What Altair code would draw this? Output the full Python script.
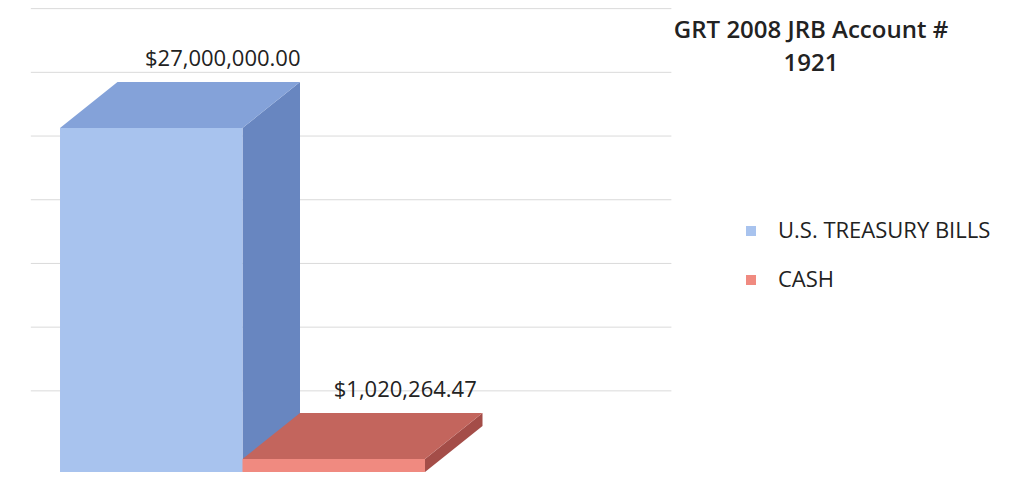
import altair as alt
import pandas as pd

# ---- data ----
categories = ["U.S. TREASURY BILLS", "CASH"]
values = [27000000.00, 1020264.47]
value_labels = ["$27,000,000.00", "$1,020,264.47"]
grid_values = [5e6, 10e6, 15e6, 20e6, 25e6, 30e6, 35e6]
title_lines = ["GRT 2008 JRB Account #", "1921"]

# ---- styling / projection constants ----
front_colors = ["#a8c3ee", "#f08a80"]
top_colors = ["#84a2d9", "#c3655d"]
side_colors = ["#6886c0", "#a44d48"]
DX = 0.315      # depth offset along x (category units)
DY = 3.61e6     # depth offset along y (value units)
WALL = 1.37e6   # back-wall offset of gridlines
GRID_X0, GRID_X1 = -0.16, 3.35

xs = alt.Scale(domain=[-0.285, 5.178], nice=False, zero=False)
ys = alt.Scale(domain=[-0.47e6, 36.42e6], nice=False, zero=False)

front_rows, top_rows, side_rows, label_rows = [], [], [], []
for i, (c, v) in enumerate(zip(categories, values)):
    front_rows.append({"cat": c, "x0": i, "x1": i + 1, "y0": 0, "y1": v})
    top_rows += [
        {"cat": c, "col": top_colors[i], "y": v, "xa": i, "xb": i + 1},
        {"cat": c, "col": top_colors[i], "y": v + DY, "xa": i + DX, "xb": i + 1 + DX},
    ]
    side_rows += [
        {"cat": c, "col": side_colors[i], "x": i + 1, "ya": 0, "yb": v},
        {"cat": c, "col": side_colors[i], "x": i + 1 + DX, "ya": DY, "yb": v + DY},
    ]
    label_rows.append({"cat": c, "x": i + 0.5 + DX, "y": v + DY, "text": value_labels[i]})

front_df = pd.DataFrame(front_rows)
top_df = pd.DataFrame(top_rows)
side_df = pd.DataFrame(side_rows)
label_df = pd.DataFrame(label_rows)
grid_df = pd.DataFrame({"v": grid_values})
grid_df["y"] = grid_df["v"] + WALL
grid_df["x0"] = GRID_X0
grid_df["x1"] = GRID_X1

grid = alt.Chart(grid_df).mark_rule(color="#dadada", strokeWidth=1).encode(
    x=alt.X("x0:Q", scale=xs, axis=None),
    x2="x1:Q",
    y=alt.Y("y:Q", scale=ys, axis=None),
)

side = alt.Chart(side_df).mark_area(orient="vertical", opacity=1).encode(
    x=alt.X("x:Q", scale=xs, axis=None),
    y=alt.Y("ya:Q", scale=ys, axis=None),
    y2="yb:Q",
    detail="cat:N",
    fill=alt.Fill("col:N", scale=None),
)

top = alt.Chart(top_df).mark_area(orient="horizontal", opacity=1).encode(
    y=alt.Y("y:Q", scale=ys, axis=None),
    x=alt.X("xa:Q", scale=xs, axis=None),
    x2="xb:Q",
    detail="cat:N",
    fill=alt.Fill("col:N", scale=None),
)

front = alt.Chart(front_df).mark_rect(opacity=1).encode(
    x=alt.X("x0:Q", scale=xs, axis=None),
    x2="x1:Q",
    y=alt.Y("y0:Q", scale=ys, axis=None),
    y2="y1:Q",
    color=alt.Color(
        "cat:N",
        scale=alt.Scale(domain=categories, range=front_colors),
        sort=categories,
        legend=alt.Legend(
            title=None,
            orient="none",
            legendX=732,
            legendY=212,
            symbolType="square",
            symbolSize=100,
            symbolStrokeWidth=0,
            symbolOpacity=1,
            labelFont="Open Sans",
            labelFontSize=22,
            labelColor="#222222",
            labelOffset=16,
            labelLimit=400,
            rowPadding=27,
            padding=0,
        ),
    ),
)

labels = alt.Chart(label_df).mark_text(
    font="Open Sans", fontSize=22, color="#222222", align="center",
    baseline="middle", dx=14, dy=-23,
).encode(
    x=alt.X("x:Q", scale=xs, axis=None),
    y=alt.Y("y:Q", scale=ys, axis=None),
    text="text:N",
)

title1 = alt.Chart(pd.DataFrame({"t": [title_lines[0]]})).mark_text(
    font="Open Sans", fontSize=24, fontWeight=600, color="#222222",
    align="center", baseline="middle",
).encode(x=alt.value(803), y=alt.value(23), text="t:N")

title2 = alt.Chart(pd.DataFrame({"t": [title_lines[1]]})).mark_text(
    font="Open Sans", fontSize=24, fontWeight=600, color="#222222",
    align="center", baseline="middle",
).encode(x=alt.value(803), y=alt.value(56), text="t:N")

chart = alt.layer(grid, side, top, front, labels, title1, title2).properties(
    width=997, height=470, autosize=alt.AutoSizeParams(type="none"), padding=0,
    background="white",
).configure_view(stroke=None)

chart.save("out.html", embed_options={"renderer": "svg", "actions": False})
